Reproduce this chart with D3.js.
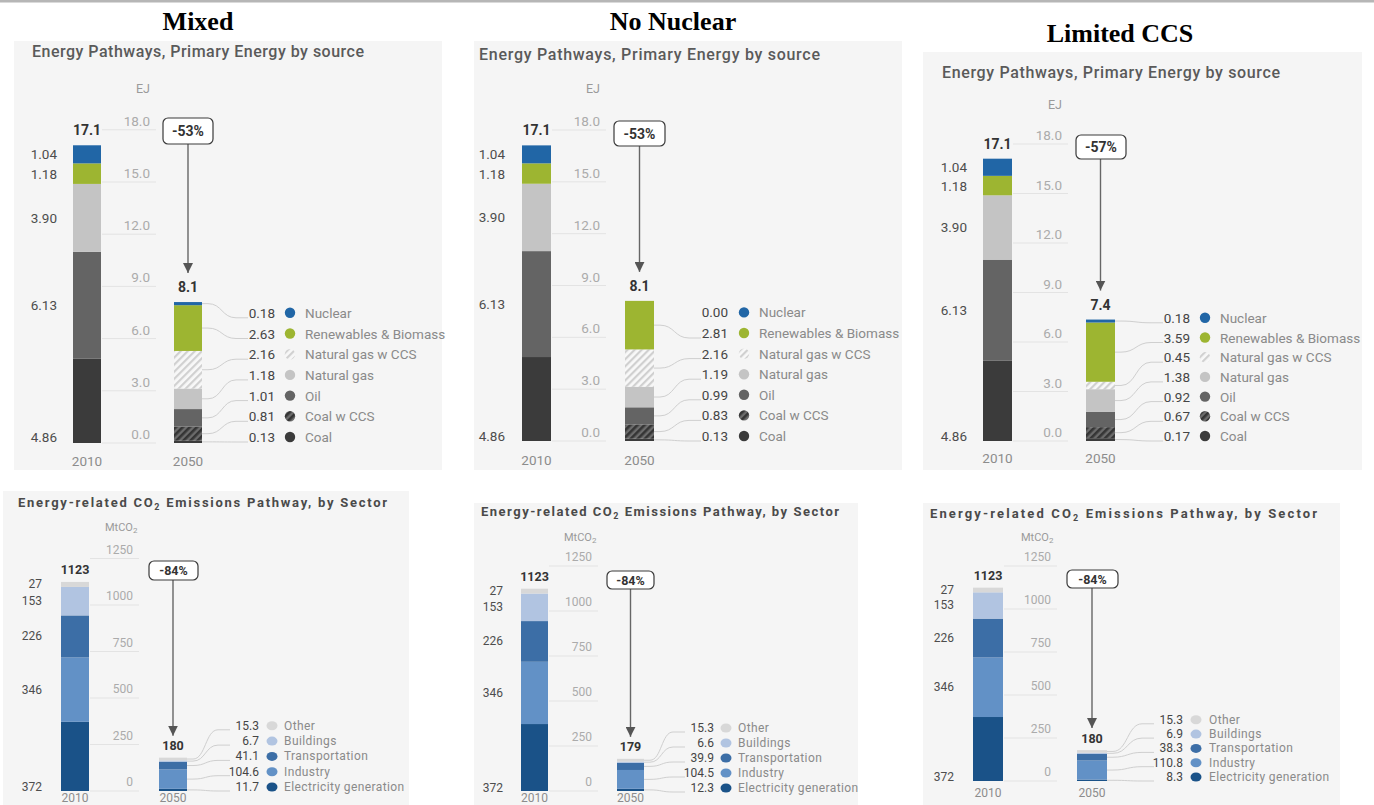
<!DOCTYPE html>
<html>
<head>
<meta charset="utf-8">
<script src="https://cdn.jsdelivr.net/npm/d3@7"></script>
<style>
  body { margin: 0; background: #ffffff; }
  svg { display: block; font-family: Roboto, "DejaVu Sans", sans-serif; }
</style>
</head>
<body>
<svg id="chart" width="1374" height="805"></svg>
<script>
// ---------------- data ----------------
const scenarios = ["Mixed", "No Nuclear", "Limited CCS"];
const years = ["2010", "2050"];

// Primary energy (EJ), stacked bottom to top
const energyTicks = [0, 3, 6, 9, 12, 15, 18];
const energySources2010 = ["Coal", "Oil", "Natural gas", "Renewables & Biomass", "Nuclear"];
const energy2010 = [4.86, 6.13, 3.90, 1.18, 1.04];
const energyTotal2010 = 17.1;
const energySources2050 = ["Coal", "Coal w CCS", "Oil", "Natural gas", "Natural gas w CCS", "Renewables & Biomass", "Nuclear"];
const energy2050Mixed = [0.13, 0.81, 1.01, 1.18, 2.16, 2.63, 0.18];
const energy2050NoNuclear = [0.13, 0.83, 0.99, 1.19, 2.16, 2.81, 0.00];
const energy2050LimitedCCS = [0.17, 0.67, 0.92, 1.38, 0.45, 3.59, 0.18];
const energyTotals2050 = [8.1, 8.1, 7.4];
const energyChange = ["-53%", "-53%", "-57%"];

// Energy-related CO2 emissions (MtCO2), stacked bottom to top
const co2Ticks = [0, 250, 500, 750, 1000, 1250];
const co2Sectors = ["Electricity generation", "Industry", "Transportation", "Buildings", "Other"];
const co2_2010 = [372, 346, 226, 153, 27];
const co2Total2010 = 1123;
const co2_2050Mixed = [11.7, 104.6, 41.1, 6.7, 15.3];
const co2_2050NoNuclear = [12.3, 104.5, 39.9, 6.6, 15.3];
const co2_2050LimitedCCS = [8.3, 110.8, 38.3, 6.9, 15.3];
const co2Totals2050 = [180, 179, 180];
const co2Change = ["-84%", "-84%", "-84%"];

// ---------------- styles ----------------
const energyFill = {
  "Coal": "#3b3b3b",
  "Coal w CCS": "url(#hatchDark)",
  "Oil": "#646464",
  "Natural gas": "#c4c4c4",
  "Natural gas w CCS": "url(#hatchLight)",
  "Renewables & Biomass": "#9db531",
  "Nuclear": "#2166a6"
};
const co2Fill = {
  "Electricity generation": "#1a5288",
  "Industry": "#6291c6",
  "Transportation": "#3c6ea6",
  "Buildings": "#b1c4e1",
  "Other": "#d8d8d8"
};

// ---------------- panel layouts ----------------
const energyLayout = [
  { bg: [14, 41, 442, 470], title: [32, 57, 332], scen: [198, 30], unit: [150, 88], y0: 443, yTop: 129.8, tickX: 150,
    bar1: 73, bar2: 174, barW: 28, leftX: 57, legVal: 275, legDot: 290, legName: 305, legBottom: 437, legStep: 20.7,
    yearY: 461, box: [163, 118, 50, 26] },
  { bg: [474, 41, 902, 470], title: [479, 60, 341], scen: [673, 30], unit: [600, 88], y0: 441, yTop: 130, tickX: 600,
    bar1: 522, bar2: 625, barW: 29, leftX: 505, legVal: 728, legDot: 744, legName: 759, legBottom: 436, legStep: 20.6,
    yearY: 460, box: [614, 121, 51, 25] },
  { bg: [923, 52, 1362, 470], title: [942, 78, 338], scen: [1120, 42], unit: [1062, 104], y0: 441, yTop: 144, tickX: 1062,
    bar1: 983, bar2: 1086, barW: 29, leftX: 967, legVal: 1190, legDot: 1205, legName: 1220, legBottom: 436, legStep: 19.7,
    yearY: 458, box: [1076, 135, 50, 24] }
];
const co2Layout = [
  { bg: [3, 491, 409, 805], title: [18, 507, 369], unit: [105, 527], y0: 791, yTop: 558.5, tickX: 133,
    bar1: 61, bar2: 159, barW: 28, leftX: 42, legVal: 259, legDot: 272, legName: 284, legBottom: 787, legStep: 15.3,
    yearY: 798, box: [149, 561, 49, 19] },
  { bg: [474, 503, 858, 805], title: [481, 516, 358], unit: [564, 537], y0: 791, yTop: 566, tickX: 592,
    bar1: 521, bar2: 617, barW: 27, leftX: 503, legVal: 714, legDot: 726, legName: 738, legBottom: 788, legStep: 15,
    yearY: 798, box: [607, 571, 47, 18] },
  { bg: [923, 503, 1340, 805], title: [930, 518, 387], unit: [1021, 537], y0: 781, yTop: 566, tickX: 1051,
    bar1: 973, bar2: 1077, barW: 30, leftX: 954, legVal: 1183, legDot: 1196, legName: 1209, legBottom: 777, legStep: 14.3,
    yearY: 793, box: [1067, 570, 51, 18] }
];

// ---------------- drawing ----------------
const svg = d3.select("#chart");
const defs = svg.append("defs");

function hatch(id, bg, fg, w) {
  const p = defs.append("pattern")
    .attr("id", id).attr("patternUnits", "userSpaceOnUse")
    .attr("width", 5).attr("height", 5)
    .attr("patternTransform", "rotate(45)");
  p.append("rect").attr("width", 5).attr("height", 5).attr("fill", bg);
  p.append("rect").attr("width", w).attr("height", 5).attr("fill", fg);
}
hatch("hatchLight", "#f8f8f8", "#d0d0d0", 2.2);
hatch("hatchDark", "#6c6c6c", "#353535", 2.6);

defs.append("marker").attr("id", "arrowHead")
  .attr("viewBox", "0 0 10 10").attr("refX", 10).attr("refY", 5)
  .attr("markerWidth", 10).attr("markerHeight", 10).attr("markerUnits", "userSpaceOnUse")
  .attr("orient", "auto")
  .append("path").attr("d", "M0,0 L10,5 L0,10 Z").attr("fill", "#555");

// thin rule across the top of the page
svg.append("rect").attr("x", 0).attr("y", 0).attr("width", 1374).attr("height", 2.5).attr("fill", "#b6b6b6");

function stackSegments(cats, vals) {
  const tops = d3.cumsum(vals);
  return cats.map((c, i) => ({ key: c, value: vals[i], lo: tops[i] - vals[i], hi: tops[i], i }));
}

function drawPanel(L, spec) {
  const g = svg.append("g");
  const fs = spec.fontSize;

  g.append("rect")
    .attr("x", L.bg[0]).attr("y", L.bg[1])
    .attr("width", L.bg[2] - L.bg[0]).attr("height", L.bg[3] - L.bg[1])
    .attr("fill", "#f5f5f5");

  // panel title
  const t = g.append("text")
    .attr("x", L.title[0]).attr("y", L.title[1])
    .attr("textLength", L.title[2]).attr("lengthAdjust", "spacing")
    .attr("font-size", spec.titleSize).attr("font-weight", spec.titleWeight)
    .attr("fill", spec.titleColor);
  spec.titleParts(t);

  const y = d3.scaleLinear().domain([0, d3.max(spec.ticks)]).range([L.y0, L.yTop]);
  const x = d3.scaleOrdinal().domain(years).range([L.bar1, L.bar2]);
  const barRight1 = x("2010") + L.barW;

  // unit label
  const u = g.append("text")
    .attr("x", L.unit[0]).attr("y", L.unit[1])
    .attr("dominant-baseline", "central")
    .attr("text-anchor", spec.unitAnchor)
    .attr("font-size", fs - 1).attr("fill", "#9a9a9a");
  spec.unitParts(u);

  // gridlines with labels sitting above them
  const ticks = g.append("g");
  ticks.selectAll("line").data(spec.ticks).join("line")
    .attr("x1", barRight1 + 1).attr("x2", L.tickX + 6)
    .attr("y1", d => y(d)).attr("y2", d => y(d))
    .attr("stroke", "#e3e3e3").attr("stroke-width", 1);
  ticks.selectAll("text").data(spec.ticks).join("text")
    .attr("x", L.tickX).attr("y", d => y(d) - spec.tickLift)
    .attr("text-anchor", "end").attr("dominant-baseline", "central")
    .attr("font-size", fs).attr("fill", "#ababab")
    .text(spec.tickFormat);

  // 2010 bar
  const seg1 = stackSegments(spec.cats2010, spec.vals2010);
  g.append("g").selectAll("rect").data(seg1).join("rect")
    .attr("x", x("2010")).attr("width", L.barW)
    .attr("y", d => y(d.hi)).attr("height", d => y(d.lo) - y(d.hi))
    .attr("fill", d => spec.fills[d.key]);

  // 2010 value labels at the left (bottom one aligned with the baseline)
  g.append("g").selectAll("text").data(seg1).join("text")
    .attr("x", L.leftX)
    .attr("y", d => d.i === 0 ? L.legBottom : y((d.lo + d.hi) / 2))
    .attr("text-anchor", "end").attr("dominant-baseline", "central")
    .attr("font-size", fs).attr("fill", "#4d4d4d")
    .text(d => spec.leftFormat(d.value));

  const top1 = y(d3.sum(spec.vals2010));
  g.append("text")
    .attr("x", x("2010") + L.barW / 2).attr("y", top1 - spec.totalLift)
    .attr("text-anchor", "middle").attr("dominant-baseline", "central")
    .attr("font-size", fs + 0.5).attr("font-weight", "bold").attr("fill", "#333")
    .text(spec.totalFormat(spec.total2010));

  // 2050 bar
  const seg2 = stackSegments(spec.cats2050, spec.vals2050);
  g.append("g").selectAll("rect").data(seg2).join("rect")
    .attr("x", x("2050")).attr("width", L.barW)
    .attr("y", d => y(d.hi)).attr("height", d => y(d.lo) - y(d.hi))
    .attr("fill", d => spec.fills[d.key]);

  const top2 = y(d3.sum(spec.vals2050));
  const cx2 = x("2050") + L.barW / 2;
  g.append("text")
    .attr("x", cx2).attr("y", top2 - spec.totalLift)
    .attr("text-anchor", "middle").attr("dominant-baseline", "central")
    .attr("font-size", fs + 0.5).attr("font-weight", "bold").attr("fill", "#333")
    .text(spec.totalFormat(spec.total2050));

  // change box and arrow
  const [bx, by, bw, bh] = L.box;
  g.append("line")
    .attr("x1", cx2).attr("x2", cx2)
    .attr("y1", by + bh).attr("y2", top2 - spec.arrowGap)
    .attr("stroke", "#666").attr("stroke-width", 1.4)
    .attr("marker-end", "url(#arrowHead)");
  g.append("rect")
    .attr("x", bx).attr("y", by).attr("width", bw).attr("height", bh)
    .attr("rx", 5).attr("fill", "#ffffff").attr("stroke", "#3a3a3a").attr("stroke-width", 1.2);
  g.append("text")
    .attr("x", bx + bw / 2).attr("y", by + bh / 2)
    .attr("text-anchor", "middle").attr("dominant-baseline", "central")
    .attr("font-size", fs + 0.5).attr("font-weight", "bold").attr("fill", "#333")
    .text(spec.change);

  // leader lines from the 2050 segments to the legend rows
  const rowY = i => L.legBottom - i * L.legStep;
  const x1 = x("2050") + L.barW;
  const xEnd = L.legVal - spec.valueGap;
  g.append("g").selectAll("path").data(seg2.filter(d => d.value > 0)).join("path")
    .attr("d", d => {
      const ya = y((d.lo + d.hi) / 2);
      const yb = rowY(d.i) + spec.lineDrop;
      const xa = x1 + 6, xb = xEnd - 12, xm = (xa + xb) / 2;
      return `M${x1},${ya}H${xa}C${xm},${ya} ${xm},${yb} ${xb},${yb}H${xEnd}`;
    })
    .attr("fill", "none").attr("stroke", "#cfcfcf").attr("stroke-width", 1);

  // legend rows: value, dot, name
  const leg = g.append("g").selectAll("g").data(seg2).join("g");
  leg.append("text")
    .attr("x", L.legVal).attr("y", d => rowY(d.i))
    .attr("text-anchor", "end").attr("dominant-baseline", "central")
    .attr("font-size", fs).attr("fill", "#454545")
    .text(d => spec.legFormat(d.value));
  leg.append("ellipse")
    .attr("cx", L.legDot).attr("cy", d => rowY(d.i))
    .attr("rx", spec.dotRx).attr("ry", spec.dotRy)
    .attr("fill", d => spec.fills[d.key]);
  leg.append("text")
    .attr("x", L.legName).attr("y", d => rowY(d.i))
    .attr("dominant-baseline", "central")
    .attr("font-size", fs).attr("fill", "#8a8a8a")
    .attr("letter-spacing", spec.nameSpacing)
    .text(d => d.key);

  // year labels
  g.append("g").selectAll("text").data(years).join("text")
    .attr("x", d => x(d) + L.barW / 2).attr("y", L.yearY)
    .attr("text-anchor", "middle").attr("dominant-baseline", "central")
    .attr("font-size", fs).attr("fill", "#8c8c8c")
    .text(d => d);
}

const energy2050 = [energy2050Mixed, energy2050NoNuclear, energy2050LimitedCCS];
const co2_2050 = [co2_2050Mixed, co2_2050NoNuclear, co2_2050LimitedCCS];

scenarios.forEach((name, i) => {
  const L = energyLayout[i];
  svg.append("text")
    .attr("x", L.scen[0]).attr("y", L.scen[1])
    .attr("text-anchor", "middle")
    .attr("font-family", "'Liberation Serif', 'Times New Roman', serif")
    .attr("font-size", 26).attr("font-weight", "bold").attr("fill", "#000")
    .text(name);

  drawPanel(L, {
    fontSize: 13.5, titleSize: 16, titleWeight: 500, titleColor: "#5a5a5a",
    titleParts: t => t.text("Energy Pathways, Primary Energy by source"),
    unitAnchor: "end", unitParts: u => u.text("EJ"),
    ticks: energyTicks, tickFormat: d3.format(".1f"), tickLift: 9,
    cats2010: energySources2010, vals2010: energy2010, total2010: energyTotal2010,
    cats2050: energySources2050, vals2050: energy2050[i], total2050: energyTotals2050[i],
    change: energyChange[i], fills: energyFill,
    leftFormat: d3.format(".2f"), legFormat: d3.format(".2f"), totalFormat: d3.format(".1f"),
    totalLift: 15, arrowGap: 29, valueGap: 27, lineDrop: 5,
    dotRx: 5.2, dotRy: 5.2, nameSpacing: 0
  });

  drawPanel(co2Layout[i], {
    fontSize: 12, titleSize: 13, titleWeight: "bold", titleColor: "#4a4a4a",
    titleParts: t => {
      t.append("tspan").text("Energy-related CO");
      t.append("tspan").attr("font-size", 9).attr("dy", 3).text("2");
      t.append("tspan").attr("dy", -3).text(" Emissions Pathway, by Sector");
    },
    unitAnchor: "start",
    unitParts: u => {
      u.append("tspan").text("MtCO");
      u.append("tspan").attr("font-size", 8).attr("dy", 3).text("2");
    },
    ticks: co2Ticks, tickFormat: d3.format("d"), tickLift: 9,
    cats2010: co2Sectors, vals2010: co2_2010, total2010: co2Total2010,
    cats2050: co2Sectors, vals2050: co2_2050[i], total2050: co2Totals2050[i],
    change: co2Change[i], fills: co2Fill,
    leftFormat: d3.format("d"), legFormat: d3.format(".1f"), totalFormat: d3.format("d"),
    totalLift: 12, arrowGap: 22, valueGap: 29, lineDrop: 4,
    dotRx: 5.5, dotRy: 4.5, nameSpacing: 0.4
  });
});
</script>
</body>
</html>
